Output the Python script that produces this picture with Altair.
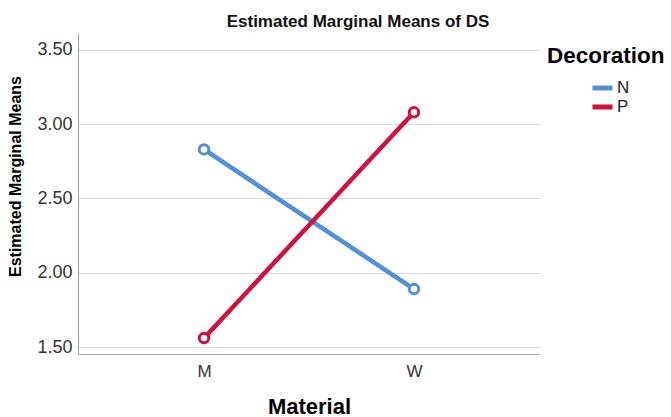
import altair as alt
import pandas as pd

materials = ["M", "W"]
decorations = ["N", "P"]
means_N = [2.83, 1.89]
means_P = [1.56, 3.08]
y_ticks = [1.5, 2.0, 2.5, 3.0, 3.5]
colors = ["#4f8fdc", "#d0103e"]

rows = []
for m, v in zip(materials, means_N):
    rows.append({"Material": m, "Decoration": "N", "Mean": v})
for m, v in zip(materials, means_P):
    rows.append({"Material": m, "Decoration": "P", "Mean": v})
df = pd.DataFrame(rows)

FONT = "Liberation Sans"

x = alt.X(
    "Material:N",
    scale=alt.Scale(type="point", padding=0.6),
    axis=alt.Axis(
        title="Material", labelAngle=0, labelFontSize=17, labelColor="#333333",
        labelPadding=9, ticks=False, grid=False,
        domainColor="#a6a6a6", domainWidth=1.2,
        titleFontSize=22, titleFontWeight="bold", titleColor="#000000",
        titleBaseline="alphabetic", titleY=59,
    ),
)
y = alt.Y(
    "Mean:Q",
    scale=alt.Scale(domain=[1.453, 3.614], nice=False, zero=False),
    axis=alt.Axis(
        title="Estimated Marginal Means", values=y_ticks, format=".2f",
        labelFontSize=18, labelColor="#333333", labelPadding=6, ticks=False,
        grid=True, gridColor="#d9d9d9", gridWidth=1.2,
        domainColor="#a6a6a6", domainWidth=1.2,
        titleFontSize=16, titleFontWeight="bold", titleColor="#000000",
        titleBaseline="middle", titleX=-63, titleY=143,
    ),
)
color = alt.Color(
    "Decoration:N",
    scale=alt.Scale(domain=decorations, range=colors),
    legend=alt.Legend(
        title=None, orient="none", legendX=512, legendY=47,
        symbolType="stroke", symbolSize=400, symbolStrokeWidth=5,
        labelFontSize=17, labelColor="#222222", labelOffset=2,
        rowPadding=2, padding=0, clipHeight=16,
    ),
)

base = alt.Chart(df)
lines = base.mark_line(strokeWidth=4.5).encode(x=x, y=y, color=color, detail="Decoration:N")
points = base.mark_point(filled=False, fill="white", fillOpacity=1, size=90, strokeWidth=3, opacity=1).encode(
    x=x, y=y, color=alt.Color("Decoration:N", scale=alt.Scale(domain=decorations, range=colors), legend=None)
)
legend_title = alt.Chart(pd.DataFrame({"t": ["Decoration"]})).mark_text(
    fontSize=22.5, fontWeight="bold", font=FONT, align="left", baseline="alphabetic", color="#000000"
).encode(x=alt.value(469), y=alt.value(30), text="t:N")

chart = alt.layer(lines, points, legend_title).properties(
    width=462, height=321,
    autosize=alt.AutoSizeParams(type="none"),
    padding={"left": 78, "top": 33, "right": 131, "bottom": 63},
    title=alt.TitleParams(
        "Estimated Marginal Means of DS", fontSize=17, fontWeight="bold", font=FONT,
        color="#111111", anchor="middle", dx=49, dy=17, offset=6, baseline="alphabetic",
    ),
).configure(font=FONT, background="white").configure_view(stroke=None).configure_axis(
    labelFont=FONT, titleFont=FONT
).configure_axisX(grid=False).configure_legend(labelFont=FONT)

chart.save("out.html", embed_options={"renderer": "svg", "actions": False})
